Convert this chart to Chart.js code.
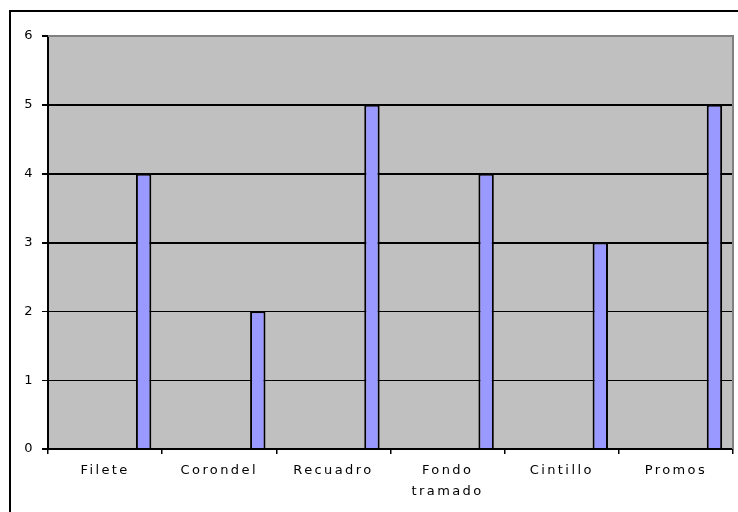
<!DOCTYPE html>
<html>
<head>
<meta charset="utf-8">
<script src="https://cdn.jsdelivr.net/npm/chart.js@4.4.1/dist/chart.umd.min.js"></script>
<style>
  html, body { margin: 0; padding: 0; background: #fff; overflow: hidden; }
  #wrap { width: 738px; height: 512px; }
</style>
</head>
<body>
<div id="wrap"><canvas id="myChart"></canvas></div>
<script>
// Datos del grafico
const categories = ['Filete', 'Corondel', 'Recuadro', ['Fondo', 'tramado'], 'Cintillo', 'Promos'];
const values = [4, 2, 5, 4, 3, 5];
// series vacias (en el original la barra va en la ultima posicion del grupo)
const emptyValues = [null, null, null, null, null, null];
const yTicks = [0, 1, 2, 3, 4, 5, 6];

Chart.defaults.font.family = 'DejaVu Sans';
Chart.defaults.font.size = 13;
Chart.defaults.color = '#000';

// fondo gris del area, marco y espaciado de letras
const excelLook = {
  id: 'excelLook',
  beforeLayout: function (chart) {
    chart.ctx.letterSpacing = '2.4px';
  },
  beforeDraw: function (chart) {
    let ctx = chart.ctx;
    let a = chart.chartArea;
    ctx.letterSpacing = '2.4px';
    ctx.save();
    ctx.fillStyle = '#c0c0c0';
    ctx.fillRect(a.left, a.top, a.right - a.left, a.bottom - a.top);
    ctx.restore();
  },
  afterDraw: function (chart) {
    let ctx = chart.ctx;
    let a = chart.chartArea;
    ctx.save();
    ctx.strokeStyle = '#808080';
    ctx.lineWidth = 2;
    ctx.beginPath();
    ctx.moveTo(a.left, a.top);
    ctx.lineTo(a.right, a.top);
    ctx.lineTo(a.right, a.bottom);
    ctx.stroke();
    // marco exterior del grafico
    ctx.strokeStyle = '#000';
    ctx.lineWidth = 2;
    ctx.beginPath();
    ctx.moveTo(10, chart.height + 5);
    ctx.lineTo(10, 11);
    ctx.lineTo(chart.width + 5, 11);
    ctx.stroke();
    ctx.restore();
  }
};

function gridWidth(context) {
  let v = context.tick ? context.tick.value : 0;
  if (v == 0) return 2;
  return v >= 3 ? 2 : 1;
}

let datasets = [];
for (let i = 0; i < 5; i++) {
  datasets.push({ data: emptyValues, backgroundColor: '#9999ff' });
}
datasets.push({
  label: 'Serie',
  data: values,
  backgroundColor: '#9999ff',
  borderColor: '#000',
  borderWidth: 2
});

var ctx = document.getElementById('myChart').getContext('2d');
var chart = new Chart(ctx, {
  type: 'bar',
  data: {
    labels: categories,
    datasets: datasets
  },
  options: {
    responsive: true,
    maintainAspectRatio: false,
    animation: false,
    layout: { padding: { top: 36, right: 5, left: 10, bottom: 0 } },
    categoryPercentage: 0.81,
    barPercentage: 1,
    plugins: {
      legend: { display: false },
      tooltip: { enabled: false }
    },
    scales: {
      x: {
        grid: {
          drawOnChartArea: false,
          tickLength: 5,
          color: '#000',
          lineWidth: 1.5
        },
        border: { color: '#000', width: 2 },
        ticks: {
          padding: 7,
          maxRotation: 0,
          autoSkip: false,
          font: { size: 13, lineHeight: 1.55 }
        },
        afterFit: function (scale) { scale.height = 63; }
      },
      y: {
        min: 0,
        max: 6,
        grid: {
          color: '#000',
          lineWidth: gridWidth,
          tickLength: 6
        },
        border: { color: '#000', width: 2 },
        ticks: { padding: 7, stepSize: 1 },
        afterBuildTicks: function (scale) {
          scale.ticks = yTicks.map(function (v) { return { value: v }; });
        },
        afterFit: function (scale) { scale.width = 38; }
      }
    }
  },
  plugins: [excelLook]
});
</script>
</body>
</html>
